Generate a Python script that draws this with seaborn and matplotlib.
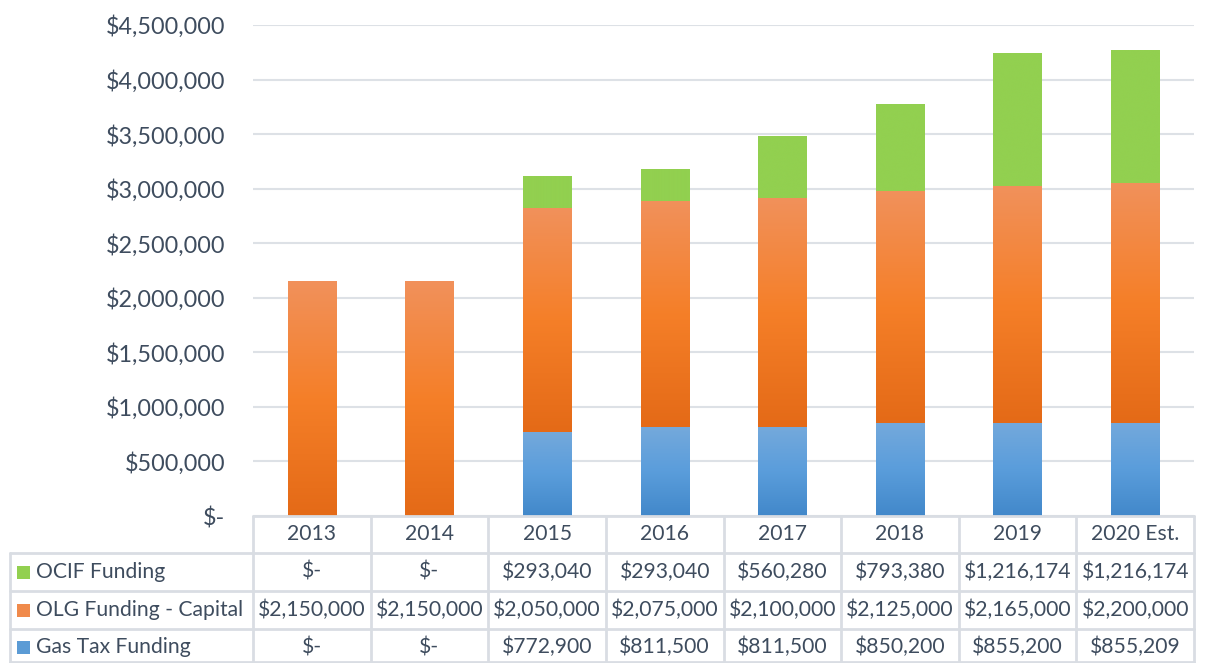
import numpy as np
import pandas as pd
import seaborn as sns
import matplotlib.pyplot as plt
from matplotlib.lines import Line2D
from matplotlib.patches import Rectangle
from matplotlib.colors import LinearSegmentedColormap
from matplotlib.ticker import FuncFormatter
import matplotlib.transforms as mtransforms

years = ['2013', '2014', '2015', '2016', '2017', '2018', '2019', '2020 Est.']
gas_tax = [0, 0, 772900, 811500, 811500, 850200, 855200, 855209]
olg_capital = [2150000, 2150000, 2050000, 2075000, 2100000, 2125000, 2165000, 2200000]
ocif = [0, 0, 293040, 293040, 560280, 793380, 1216174, 1216174]
series_names = ['OCIF Funding', 'OLG Funding - Capital', 'Gas Tax Funding']

txt = '#3E4C5E'
grid_c = '#DDE1E6'
line_c = '#D9DDE3'
fs_table = 15.2
fs_tick = 16.8

sns.set_style('white')
plt.rcParams['font.family'] = ['Lato', 'DejaVu Sans']

df = pd.DataFrame({'year': years, 'gas': gas_tax, 'olg': olg_capital, 'ocif': ocif})
df['b_olg'] = df['gas']
df['b_ocif'] = df['gas'] + df['olg']

fig = plt.figure(figsize=(12.06, 6.63), dpi=100)
ax = fig.add_axes([253 / 1206, 1 - 516 / 663, (1194 - 253) / 1206, (516 - 25) / 663])

orange_cm = LinearSegmentedColormap.from_list('o', ['#E46A17', '#F57F28', '#F1915B'])
blue_cm = LinearSegmentedColormap.from_list('b', ['#4288CA', '#5A9DDB', '#74A9DC'])
green_cm = LinearSegmentedColormap.from_list('g', ['#92D050', '#92D050'])

layers = [('gas', None, blue_cm), ('olg', 'b_olg', orange_cm), ('ocif', 'b_ocif', green_cm)]
grad = np.linspace(0, 1, 256).reshape(-1, 1)
for col, bcol, cm in layers:
    n0 = len(ax.patches)
    kw = {} if bcol is None else {'bottom': df[bcol].values}
    sns.barplot(data=df, x='year', y=col, order=years, width=0.41, color='#888888',
                ax=ax, zorder=3, **kw)
    for p in ax.patches[n0:]:
        x, y, w, h = p.get_x(), p.get_y(), p.get_width(), p.get_height()
        p.set_visible(False)
        if h <= 0:
            continue
        ax.imshow(grad, cmap=cm, origin='lower', aspect='auto',
                  extent=[x, x + w, y, y + h], zorder=3, interpolation='bicubic')

ax.set_xlim(-0.5, len(years) - 0.5)
ax.set_ylim(0, 4500000)
ax.set_yticks(np.arange(0, 4500001, 500000))
ax.yaxis.set_major_formatter(FuncFormatter(lambda v, _: '$-' if v == 0 else f'${v:,.0f}'))
ax.tick_params(axis='y', length=0, pad=20, colors=txt, labelsize=fs_tick)
ax.set_xticks([])
ax.set_xlabel('')
ax.set_ylabel('')
ax.grid(axis='y', color=grid_c, lw=1.5, zorder=0)
for s in ax.spines.values():
    s.set_visible(False)

# data table below the plot
tr = mtransforms.blended_transform_factory(ax.transData, fig.transFigure)
def fy(py):
    return 1 - py / 663

def hline(x0, x1, py, trans):
    fig.add_artist(Line2D([x0, x1], [fy(py), fy(py)], transform=trans, color=line_c, lw=2))

def vline(x, py0, py1, trans):
    fig.add_artist(Line2D([x, x], [fy(py0), fy(py1)], transform=trans, color=line_c, lw=2))

nc = len(years)
hline(-0.5, nc - 0.5, 516, tr)
for py in [553, 591, 629, 662]:
    fig.add_artist(Line2D([10 / 1206, 1194 / 1206], [fy(py), fy(py)], transform=fig.transFigure,
                          color=line_c, lw=2))
for i in range(nc + 1):
    vline(i - 0.5, 516, 663, tr)
fig.add_artist(Line2D([10 / 1206, 10 / 1206], [fy(553), fy(663)], transform=fig.transFigure,
                      color=line_c, lw=2))

for i, yr in enumerate(years):
    fig.text(i, fy(534.5), yr, transform=tr, ha='center', va='center', color=txt, fontsize=fs_table)

def money(v):
    return '$-' if v == 0 else f'${v:,.0f}'

rows = [(series_names[0], ocif, '#92D050', 572),
        (series_names[1], olg_capital, '#F08A4B', 610),
        (series_names[2], gas_tax, '#5B9BD5', 647)]
for name, vals, c, py in rows:
    fig.add_artist(Rectangle((17 / 1206, fy(py) - 6.5 / 663), 13 / 1206, 13 / 663,
                             transform=fig.transFigure, facecolor=c, edgecolor='none'))
    fig.text(36 / 1206, fy(py), name, ha='left', va='center', color=txt, fontsize=fs_table)
    for i, v in enumerate(vals):
        fig.text(i, fy(py), money(v), transform=tr, ha='center', va='center', color=txt,
                 fontsize=fs_table)

fig.savefig('out.png', dpi=100)
